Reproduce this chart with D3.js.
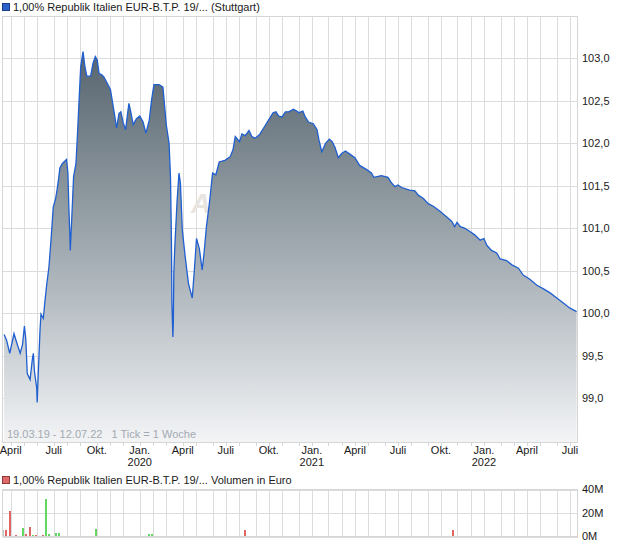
<!DOCTYPE html>
<html><head><meta charset="utf-8">
<script src="https://cdn.jsdelivr.net/npm/d3@7"></script>
<style>
body{margin:0;background:#fff}
svg{display:block}
text{font-family:"Liberation Sans",Arial,sans-serif;fill:#1a1a1a}
</style>
</head><body>
<svg id="c" width="620" height="546"></svg>
<script>
// ---------------- data ----------------
const titlePrice = "1,00% Republik Italien EUR-B.T.P. 19/... (Stuttgart)";
const titleVolume = "1,00% Republik Italien EUR-B.T.P. 19/... Volumen in Euro";
const rangeText = "19.03.19 - 12.07.22   1 Tick = 1 Woche";
const watermark = "ARIVA.DE";

const priceDates = [
"2019-03-18","2019-03-23","2019-03-30","2019-04-08","2019-04-14","2019-04-21","2019-04-26","2019-04-30",
"2019-05-03","2019-05-06","2019-05-12","2019-05-17","2019-05-19","2019-05-21","2019-05-26","2019-05-27",
"2019-05-29","2019-06-02","2019-06-04","2019-06-09","2019-06-12","2019-06-16","2019-06-21","2019-06-26",
"2019-06-30","2019-07-05","2019-07-08","2019-07-11","2019-07-14","2019-07-19","2019-07-28","2019-07-31",
"2019-08-02","2019-08-04","2019-08-05","2019-08-08","2019-08-12","2019-08-17","2019-08-20","2019-08-24",
"2019-08-27","2019-09-01","2019-09-05","2019-09-09","2019-09-17","2019-09-22","2019-09-27","2019-10-01",
"2019-10-05","2019-10-10","2019-10-15","2019-10-22","2019-10-29","2019-11-04","2019-11-11","2019-11-16",
"2019-11-20","2019-11-25","2019-11-30","2019-12-07","2019-12-11","2019-12-16","2019-12-23","2019-12-30",
"2020-01-06","2020-01-12","2020-01-19","2020-01-24","2020-01-29","2020-02-09","2020-02-17","2020-02-24",
"2020-03-01","2020-03-04","2020-03-06","2020-03-07","2020-03-09","2020-03-10","2020-03-11","2020-03-13",
"2020-03-18","2020-03-22","2020-03-25","2020-03-29","2020-04-04","2020-04-11","2020-04-19","2020-04-24",
"2020-04-28","2020-05-04","2020-05-10","2020-05-14","2020-05-19","2020-05-26","2020-06-01","2020-06-08",
"2020-06-15","2020-06-27","2020-07-08","2020-07-14","2020-07-19","2020-07-28","2020-08-02","2020-08-09",
"2020-08-17","2020-08-23","2020-08-30","2020-09-08","2020-09-17","2020-09-27","2020-10-07","2020-10-13",
"2020-10-19","2020-10-26","2020-11-02","2020-11-09","2020-11-19","2020-11-26","2020-12-01","2020-12-09",
"2020-12-14","2020-12-21","2020-12-31","2021-01-08","2021-01-12","2021-01-18","2021-01-26","2021-02-03",
"2021-02-09","2021-02-15","2021-02-22","2021-03-01","2021-03-09","2021-03-19","2021-03-29","2021-04-08",
"2021-04-23","2021-05-03","2021-05-08","2021-05-24","2021-06-07","2021-06-15","2021-06-22","2021-06-28",
"2021-07-06","2021-07-23","2021-08-03","2021-08-10","2021-08-21","2021-08-31","2021-09-11","2021-09-25",
"2021-10-10","2021-10-20","2021-10-26","2021-10-31","2021-11-07","2021-11-17","2021-11-28","2021-12-08",
"2021-12-19","2021-12-27","2022-01-02","2022-01-12","2022-01-23","2022-01-30","2022-02-13","2022-02-24",
"2022-03-10","2022-03-20","2022-04-03","2022-04-18","2022-05-01","2022-05-16","2022-05-30","2022-06-13",
"2022-06-27","2022-07-11"
];
const priceValues = [
99.75,99.69,99.53,99.76,99.65,99.53,99.63,99.85,
99.69,99.29,99.22,99.47,99.53,99.33,99.12,98.95,
99.25,99.80,99.99,99.94,100.12,100.33,100.55,100.92,
101.25,101.35,101.45,101.57,101.71,101.76,101.81,101.65,
101.25,100.94,100.74,101.10,101.61,101.76,102.08,102.55,
102.90,103.08,102.90,102.79,102.79,102.94,103.02,102.98,
102.82,102.81,102.78,102.71,102.63,102.43,102.18,102.35,
102.37,102.24,102.16,102.47,102.37,102.22,102.29,102.32,
102.25,102.12,102.27,102.51,102.69,102.69,102.66,102.22,
102.00,101.60,100.86,100.12,99.72,99.88,100.47,100.77,
101.33,101.65,101.53,100.98,100.67,100.35,100.18,100.55,
100.88,100.76,100.51,100.71,101.02,101.33,101.65,101.63,
101.78,101.80,101.84,101.92,102.08,102.02,102.11,102.09,
102.15,102.08,102.06,102.10,102.18,102.27,102.36,102.37,
102.32,102.31,102.37,102.37,102.40,102.38,102.36,102.38,
102.31,102.25,102.23,102.16,102.04,101.90,102.00,102.05,
102.02,101.95,101.83,101.88,101.91,101.87,101.83,101.74,
101.69,101.65,101.60,101.62,101.60,101.53,101.49,101.51,
101.48,101.45,101.44,101.39,101.35,101.29,101.26,101.20,
101.13,101.08,101.02,101.07,101.02,101.00,100.96,100.92,
100.86,100.88,100.80,100.74,100.71,100.64,100.62,100.57,
100.53,100.45,100.40,100.33,100.29,100.24,100.18,100.12,
100.06,100.02
];

// weekly volume (million euro) and weekly direction
const volumeDates = ["2019-03-18","2019-03-25","2019-04-01","2019-04-15","2019-04-29","2019-05-06","2019-05-13",
"2019-05-20","2019-05-27","2019-06-10","2019-06-17","2019-06-24","2019-07-08","2019-07-15","2019-09-30",
"2020-01-20","2020-01-27","2020-03-16","2020-03-23","2020-08-10","2021-10-25"];
const volumeValues = [5.6,5.6,21.7,1.4,7.3,2.2,8.2,1.4,1.4,1.4,31.8,2.2,3.1,3.1,6.5,2.2,2.2,0.6,0.6,5.6,5.6];
const volumeDir = ["flat","down","down","down","up","down","down","up","down","down","up","up","up","up","up",
"up","up","up","up","down","down"];

const priceTicks = [99.0,99.5,100.0,100.5,101.0,101.5,102.0,102.5,103.0];
const volumeTicks = [0,20,40];
const quarterLabels = {3:"April",6:"Juli",9:"Okt.",0:"Jan."};

// ---------------- layout ----------------
const parse = d3.timeParse("%Y-%m-%d");
const svg = d3.select("#c");
const L = 2.5, R = 577.5;
const mainTop = 16.5, mainBot = 442.5;
const volTop = 489.5, volBot = 536.5;
const gridColor = "#dcdcdc";

const x = d3.scaleTime()
  .domain([new Date(2019,3,1), new Date(2022,5,27)])
  .range([10.7, 570]);
const y = d3.scaleLinear().domain([99,103]).range([398.3,58.3]);
const yv = d3.scaleLinear().domain([0,40]).range([volBot, volTop]);

const months = d3.timeMonth.range(new Date(2019,3,1), new Date(2022,6,2));
const gridX = months.map(m => Math.round(x(d3.timeMonday.floor(m))) + 0.5);

const defs = svg.append("defs");
const grad = defs.append("linearGradient").attr("id","fillG")
  .attr("gradientUnits","userSpaceOnUse").attr("x1",0).attr("x2",0).attr("y1",50).attr("y2",mainBot);
grad.append("stop").attr("offset",0).attr("stop-color","#56646e");
grad.append("stop").attr("offset",0.55).attr("stop-color","#a7b0b6");
grad.append("stop").attr("offset",1).attr("stop-color","#f3f4f6");
defs.append("clipPath").attr("id","clipM").append("rect")
  .attr("x",L).attr("y",mainTop).attr("width",R-L).attr("height",mainBot-mainTop);

// ---- top legend
svg.append("rect").attr("x",2.5).attr("y",3.5).attr("width",7).attr("height",7)
  .attr("fill","#2a62c9").attr("stroke","#1b3f86");
svg.append("text").attr("x",13).attr("y",11).attr("font-size",11).text(titlePrice);

// ---- main grid
const gm = svg.append("g").attr("shape-rendering","crispEdges");
gm.selectAll("line.v").data(gridX).join("line")
  .attr("x1",d=>d).attr("x2",d=>d).attr("y1",mainTop).attr("y2",mainBot)
  .attr("stroke",gridColor);
gm.selectAll("line.h").data(priceTicks).join("line")
  .attr("x1",L).attr("x2",R).attr("y1",d=>Math.round(y(d))+0.5).attr("y2",d=>Math.round(y(d))+0.5)
  .attr("stroke",gridColor);

// watermark (behind the area)
svg.append("text").attr("x",191).attr("y",213).attr("font-size",27)
  .attr("font-style","italic").attr("font-weight","bold")
  .style("fill","#e8e4df").text(watermark);

// ---- price area + line
const pts = priceDates.map((d,i)=>({date:parse(d), v:priceValues[i]}));
const gp = svg.append("g").attr("clip-path","url(#clipM)");
gp.append("path").datum(pts)
  .attr("d", d3.area().x(d=>x(d.date)).y0(mainBot).y1(d=>y(d.v)))
  .attr("fill","url(#fillG)");
gp.append("path").datum(pts)
  .attr("d", d3.line().x(d=>x(d.date)).y(d=>y(d.v)))
  .attr("fill","none").attr("stroke","#1f5fcf").attr("stroke-width",1.3);

// ---- range text
svg.append("text").attr("x",7).attr("y",438).attr("font-size",11)
  .style("fill","#a3aab2").style("white-space","pre").text(rangeText);

// ---- main border
svg.append("rect").attr("x",L).attr("y",mainTop).attr("width",R-L).attr("height",mainBot-mainTop)
  .attr("fill","none").attr("stroke","#d6d6d6").attr("shape-rendering","crispEdges");

// ---- x axis
const xa = svg.append("g");
xa.selectAll("line").data(gridX).join("line")
  .attr("x1",d=>d).attr("x2",d=>d).attr("y1",mainBot).attr("y2",mainBot+3)
  .attr("stroke","#d6d6d6").attr("shape-rendering","crispEdges");
const qMonths = months.filter(m => m.getMonth() % 3 === 0);
xa.selectAll("text.m").data(qMonths).join("text")
  .attr("x", m => x(d3.timeMonday.floor(m)))
  .attr("y",454).attr("text-anchor","middle").attr("font-size",11)
  .text(m => quarterLabels[m.getMonth()]);
xa.selectAll("text.yr").data(qMonths.filter(m=>m.getMonth()===0)).join("text")
  .attr("x", m => x(d3.timeMonday.floor(m)))
  .attr("y",466).attr("text-anchor","middle").attr("font-size",11)
  .text(m => m.getFullYear());

// ---- y axis
svg.append("g").selectAll("text").data(priceTicks).join("text")
  .attr("x",582).attr("y",d=>y(d)).attr("dy","0.35em").attr("font-size",11)
  .text(d => d3.format(".1f")(d).replace(".",","));

// ---- volume legend
svg.append("rect").attr("x",2.5).attr("y",476.5).attr("width",7).attr("height",7)
  .attr("fill","#e06a6a").attr("stroke","#8e3a3a");
svg.append("text").attr("x",13).attr("y",484).attr("font-size",11).text(titleVolume);

// ---- volume grid
const gv = svg.append("g").attr("shape-rendering","crispEdges");
gv.selectAll("line.v").data(gridX).join("line")
  .attr("x1",d=>d).attr("x2",d=>d).attr("y1",volTop).attr("y2",volBot).attr("stroke",gridColor);
gv.selectAll("line.h").data(volumeTicks).join("line")
  .attr("x1",L).attr("x2",R).attr("y1",d=>Math.round(yv(d))+0.5).attr("y2",d=>Math.round(yv(d))+0.5)
  .attr("stroke",gridColor);

// ---- volume bars
const vcol = {up:"#62d862", down:"#e06666", flat:"#c4c4c4"};
svg.append("g").attr("shape-rendering","crispEdges").selectAll("rect")
  .data(volumeDates.map((d,i)=>({date:parse(d), v:volumeValues[i], dir:volumeDir[i]})))
  .join("rect")
  .attr("x", d => Math.round(x(d.date)) - 2)
  .attr("width",2)
  .attr("y", d => yv(d.v))
  .attr("height", d => volBot - yv(d.v))
  .attr("fill", d => vcol[d.dir]);

svg.append("rect").attr("x",L).attr("y",volTop).attr("width",R-L).attr("height",volBot-volTop)
  .attr("fill","none").attr("stroke","#d6d6d6").attr("shape-rendering","crispEdges");

svg.append("g").selectAll("text").data(volumeTicks).join("text")
  .attr("x",582).attr("y",d=>yv(d)).attr("dy","0.35em").attr("font-size",11)
  .text(d => d + "M");
</script>
</body></html>
